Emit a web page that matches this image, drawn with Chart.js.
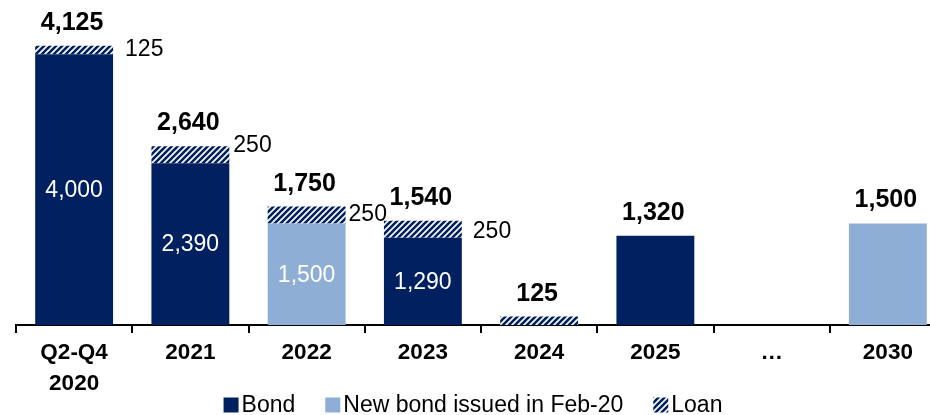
<!DOCTYPE html>
<html>
<head>
<meta charset="utf-8">
<script src="https://cdn.jsdelivr.net/npm/chart.js@4"></script>
<style>
  html, body { margin: 0; padding: 0; background: #fff; overflow: hidden; }
  #wrap { width: 946px; height: 415px; }
</style>
</head>
<body>
<div id="wrap"><canvas id="c" width="946" height="415" style="width:946px;height:415px"></canvas></div>
<script>
// ---- data ----
const categories = [["Q2-Q4", "2020"], "2021", "2022", "2023", "2024", "2025", "\u2026", "2030"];
const bondValues = [4000, 2390, 0, 1290, 0, 1320, 0, 0];
const newBondValues = [0, 0, 1500, 0, 0, 0, 0, 1500];
const loanValues = [125, 250, 250, 250, 125, 0, 0, 0];
const seriesNames = ["Bond", "New bond issued in Feb-20", "Loan"];

// ---- styles ----
const NAVY = '#002060';
const LIGHT = '#8EAED6';
const FONT = '"Liberation Sans", Arial, sans-serif';

function hatchPattern() {
  const s = 6;
  const c = document.createElement('canvas');
  c.width = s; c.height = s;
  const g = c.getContext('2d');
  g.fillStyle = '#fff';
  g.fillRect(0, 0, s, s);
  g.strokeStyle = NAVY;
  g.lineWidth = 2.6;
  g.beginPath();
  g.moveTo(0, s); g.lineTo(s, 0);
  g.moveTo(-1, 1); g.lineTo(1, -1);
  g.moveTo(s - 1, s + 1); g.lineTo(s + 1, s - 1);
  g.stroke();
  return g.createPattern(c, 'repeat');
}
const HATCH = hatchPattern();

const fmt = v => v.toLocaleString('en-US');

// label plugin: totals above, segment labels inside / beside when stacked
const labelPlugin = {
  id: 'stackLabels',
  afterDatasetsDraw(chart, args, opts) {
    const ctx = chart.ctx;
    const n = chart.data.labels.length;
    const metas = chart.data.datasets.map((d, i) => chart.getDatasetMeta(i));
    for (let i = 0; i < n; i++) {
      const vals = chart.data.datasets.map(d => d.data[i]);
      const total = vals.reduce((a, b) => a + b, 0);
      if (!total) continue;
      const nonzero = vals.filter(v => v > 0).length;
      let top = Infinity, x = 0;
      metas.forEach((m, d) => {
        if (vals[d] > 0) { const el = m.data[i]; top = Math.min(top, el.y); x = el.x; }
      });
      ctx.save();
      ctx.fillStyle = '#000';
      ctx.font = 'bold 25px ' + FONT;
      ctx.textAlign = 'center';
      ctx.textBaseline = 'alphabetic';
      ctx.fillText(fmt(total), x - 2, top - 16);
      if (nonzero > 1) {
        metas.forEach((m, d) => {
          if (!(vals[d] > 0)) return;
          const el = m.data[i];
          const cy = (el.y + el.base) / 2;
          ctx.font = '23px ' + FONT;
          ctx.textBaseline = 'middle';
          if (d === 2) {
            ctx.fillStyle = '#000';
            ctx.textAlign = 'left';
            const off = (opts.sideOffsets && opts.sideOffsets[i]) || [8, 0];
            ctx.fillText(fmt(vals[d]), el.x + el.width / 2 + off[0], cy + off[1]);
          } else {
            ctx.fillStyle = '#fff';
            ctx.textAlign = 'center';
            ctx.fillText(fmt(vals[d]), el.x, cy + 1);
          }
        });
      }
      ctx.restore();
    }
  }
};

// compact legend drawn from the datasets
const legendPlugin = {
  id: 'compactLegend',
  afterDraw(chart, args, opts) {
    const ctx = chart.ctx;
    const box = 15, gapText = 3, gapItem = 30;
    ctx.save();
    ctx.font = '23px ' + FONT;
    const items = chart.data.datasets.map(d => ({ text: d.label, fill: d.backgroundColor, w: ctx.measureText(d.label).width }));
    const total = items.reduce((a, it) => a + box + gapText + it.w, 0) + gapItem * (items.length - 1);
    let x = chart.width / 2 - total / 2;
    const cy = opts.y;
    ctx.textBaseline = 'middle';
    ctx.textAlign = 'left';
    items.forEach(it => {
      ctx.fillStyle = it.fill;
      ctx.fillRect(x, cy - box / 2, box, box);
      ctx.fillStyle = '#000';
      ctx.fillText(it.text, x + box + gapText, cy + 1);
      x += box + gapText + it.w + gapItem;
    });
    ctx.restore();
  }
};

new Chart(document.getElementById('c'), {
  type: 'bar',
  data: {
    labels: categories,
    datasets: [
      { label: seriesNames[0], data: bondValues, backgroundColor: NAVY },
      { label: seriesNames[1], data: newBondValues, backgroundColor: LIGHT },
      { label: seriesNames[2], data: loanValues, backgroundColor: HATCH }
    ]
  },
  options: {
    responsive: false,
    animation: false,
    devicePixelRatio: 1,
    layout: { padding: { left: 16, right: 0, top: 0, bottom: 0 } },
    datasets: { bar: { barPercentage: 0.67, categoryPercentage: 1, borderWidth: 0 } },
    scales: {
      x: {
        stacked: true,
        offset: true,
        grid: { display: true, drawOnChartArea: false, drawTicks: true, tickLength: 8, color: '#000', lineWidth: 2, offset: true },
        border: { display: true, color: '#000', width: 2 },
        ticks: { color: '#000', font: { family: FONT, size: 22.5, weight: 'bold', lineHeight: 1.38 }, padding: 4, maxRotation: 0, autoSkip: false },
        afterFit(scale) { scale.height = 90; }
      },
      y: { stacked: true, display: false, min: 0, max: 4800 }
    },
    plugins: {
      legend: { display: false },
      tooltip: { enabled: false },
      stackLabels: { sideOffsets: [[12, 0], [4, -9], [3, 0], [11, 2]] },
      compactLegend: { y: 405 }
    }
  },
  plugins: [labelPlugin, legendPlugin]
});
</script>
</body>
</html>
